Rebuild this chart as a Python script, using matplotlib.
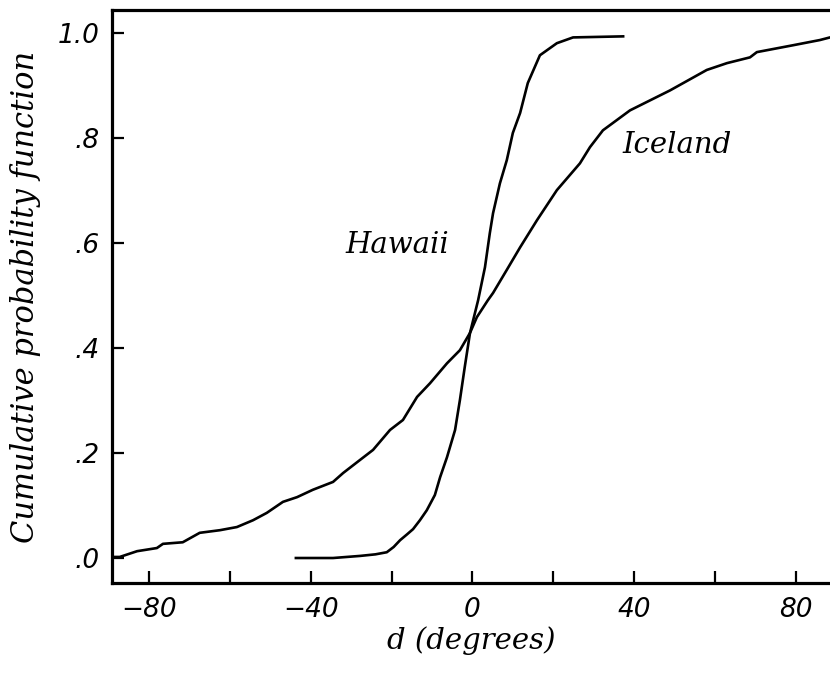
import matplotlib
matplotlib.use("Agg")
import matplotlib.pyplot as plt
from matplotlib.ticker import FuncFormatter, MultipleLocator

hawaii_d = [-43.7, -34.5, -27.8, -24.0, -21.2, -19.5, -17.9, -16.2, -14.7, -13.0,
            -11.3, -9.3, -8.0, -6.3, -4.3, -3.1, -1.9, -0.6, 1.4, 3.1, 4.3, 5.1,
            6.8, 8.5, 10.0, 11.8, 13.7, 16.7, 20.9, 24.9, 37.3]
hawaii_p = [0.0, 0.0, 0.004, 0.007, 0.011, 0.021, 0.034, 0.045, 0.055, 0.072,
            0.091, 0.12, 0.154, 0.192, 0.244, 0.301, 0.364, 0.429, 0.491, 0.554,
            0.619, 0.657, 0.714, 0.758, 0.810, 0.848, 0.905, 0.958, 0.981, 0.992,
            0.994]

iceland_d = [-89.2, -87.3, -83.0, -78.1, -76.6, -71.7, -67.5, -62.5, -58.3, -54.3,
             -50.9, -46.9, -43.4, -39.5, -34.5, -32.0, -27.8, -24.6, -20.4, -17.2,
             -13.7, -10.5, -6.3, -3.1, -0.6, 1.1, 3.8, 5.1, 8.5, 11.8, 16.0, 20.9,
             26.6, 29.1, 32.3, 39.0, 48.9, 58.0, 63.0, 68.7, 70.4, 79.3, 86.0, 88.5]
iceland_p = [0.002, 0.002, 0.013, 0.019, 0.027, 0.030, 0.048, 0.053, 0.059, 0.072,
             0.086, 0.107, 0.116, 0.130, 0.145, 0.162, 0.187, 0.206, 0.244, 0.263,
             0.307, 0.333, 0.371, 0.396, 0.429, 0.459, 0.491, 0.505, 0.549, 0.592,
             0.644, 0.701, 0.752, 0.783, 0.815, 0.853, 0.891, 0.930, 0.943, 0.954,
             0.964, 0.977, 0.987, 0.992]

x_ticks = [-80, -40, 0, 40, 80]
y_ticks = [0.0, 0.2, 0.4, 0.6, 0.8, 1.0]

fig = plt.figure(figsize=(8.3, 6.75), dpi=100)
ax = fig.add_axes([0.135, 0.136, 0.865, 0.849])

ax.plot(hawaii_d, hawaii_p, color="black", lw=1.9)
ax.plot(iceland_d, iceland_p, color="black", lw=1.9)

label_font = dict(family="DejaVu Serif", style="italic")
ax.text(-18.7, 0.596, "Hawaii", fontsize=21, ha="center", va="center", **label_font)
ax.text(50.6, 0.787, "Iceland", fontsize=21, ha="center", va="center", **label_font)

ax.set_xlim(-89.2, 88.5)
ax.set_ylim(-0.048, 1.044)

ax.set_xticks(x_ticks)
ax.xaxis.set_minor_locator(MultipleLocator(20))
ax.set_yticks(y_ticks)


def prob_fmt(v, pos):
    s = "%.1f" % v
    return s if v >= 1 else s[1:]


ax.yaxis.set_major_formatter(FuncFormatter(prob_fmt))

for sp in ["left", "bottom", "top"]:
    ax.spines[sp].set_linewidth(2.3)
ax.spines["right"].set_visible(False)

ax.tick_params(axis="both", which="both", direction="in", length=8.5, width=1.6,
               right=False, top=False)
ax.tick_params(axis="x", pad=10)
ax.tick_params(axis="y", pad=9)
for lab in ax.get_xticklabels() + ax.get_yticklabels():
    lab.set_fontsize(19)
    lab.set_fontstyle("oblique")
    lab.set_family("DejaVu Sans")

ax.set_xlabel("d (degrees)", fontsize=21, labelpad=2, **label_font)
ax.set_ylabel("Cumulative probability function", fontsize=22, labelpad=12, **label_font)

fig.savefig("out.png", dpi=100)
